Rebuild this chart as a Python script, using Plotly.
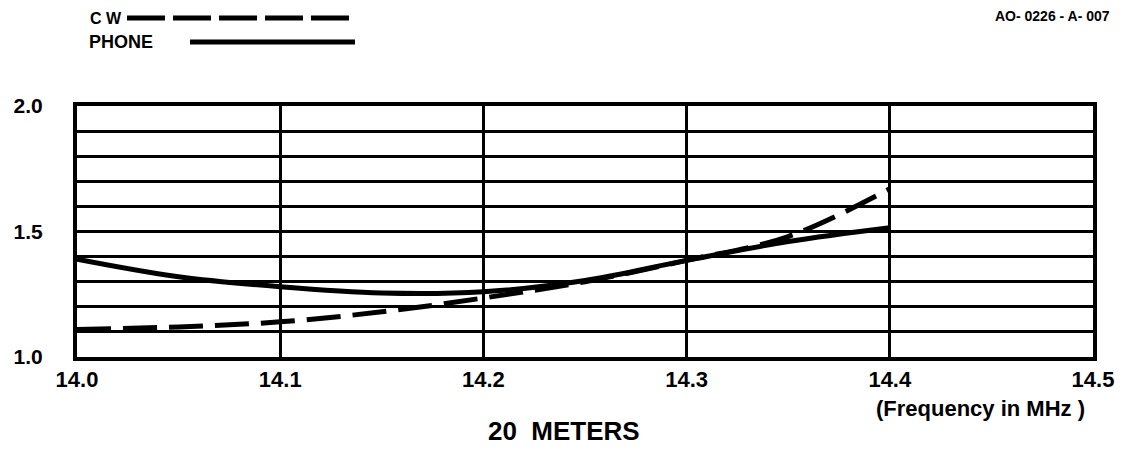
import plotly.graph_objects as go

freq = [14.0, 14.05, 14.1, 14.15, 14.2, 14.25, 14.3, 14.35, 14.4]
cw = [1.11, 1.12, 1.14, 1.18, 1.235, 1.30, 1.385, 1.48, 1.67]
phone = [1.39, 1.32, 1.28, 1.255, 1.26, 1.305, 1.385, 1.46, 1.515]

x_ticks = [14.0, 14.1, 14.2, 14.3, 14.4, 14.5]
x_labels = ["14.0", "14.1", "14.2", "14.3", "14.4", "14.5"]
y_grid = [round(1.0 + 0.1 * i, 2) for i in range(11)]
y_labels = {1.0: "1.0", 1.5: "1.5", 2.0: "2.0"}

FONT = "Liberation Sans"
L, R, T, B = 69, 43, 98, 110
PW = 1128 - L - R
PH = 459 - T - B

def px_x(p):
    # page pixel x -> paper fraction (page has 8px body offset)
    return (p - 8 - L) / PW

fig = go.Figure()
fig.add_trace(go.Scatter(x=freq, y=phone, mode="lines", name="PHONE",
                         line=dict(color="black", width=5, shape="spline")))
fig.add_trace(go.Scatter(x=freq, y=cw, mode="lines", name="CW",
                         line=dict(color="black", width=5, dash="34px,12px", shape="spline")))

fig.update_layout(
    width=1128, height=459,
    margin=dict(l=L, r=R, t=T, b=B, autoexpand=False),
    paper_bgcolor="white", plot_bgcolor="white",
    showlegend=False,
    font=dict(family=FONT, color="black", size=18),
    xaxis=dict(range=[14.0, 14.5], tickvals=x_ticks, ticktext=x_labels,
               showgrid=True, gridcolor="black", gridwidth=3,
               showline=True, linecolor="black", linewidth=4, mirror=True,
               zeroline=False, ticks="", automargin=False,
               tickfont=dict(family=FONT, size=22, color="black", weight="bold")),
    yaxis=dict(range=[1.0, 2.0], tickvals=y_grid,
               ticktext=[y_labels.get(v, "") for v in y_grid],
               showgrid=True, gridcolor="black", gridwidth=3,
               showline=True, linecolor="black", linewidth=4, mirror=True,
               zeroline=False, ticks="", ticklabelstandoff=26, automargin=False,
               tickfont=dict(family=FONT, size=21, color="black", weight="bold")),
)

# legend drawn at the top-left
fig.add_annotation(xref="paper", yref="paper", x=px_x(88), y=1.0, yshift=88,
                   xanchor="left", yanchor="middle", showarrow=False,
                   text="<b>C W</b>", font=dict(size=16, family=FONT))
fig.add_annotation(xref="paper", yref="paper", x=px_x(87), y=1.0, yshift=64,
                   xanchor="left", yanchor="middle", showarrow=False,
                   text="<b>PHONE</b>", font=dict(size=18, family=FONT))
fig.add_shape(type="line", xref="paper", yref="paper",
              x0=px_x(127), x1=px_x(355),
              y0=1 + 88 / PH, y1=1 + 88 / PH,
              line=dict(color="black", width=5, dash="38px,8px"))
fig.add_shape(type="line", xref="paper", yref="paper",
              x0=px_x(190), x1=px_x(355),
              y0=1 + 64 / PH, y1=1 + 64 / PH,
              line=dict(color="black", width=5))

fig.add_annotation(xref="paper", yref="paper", x=px_x(1112), y=1.0, yshift=90,
                   xanchor="right", yanchor="middle", showarrow=False,
                   text="<b>AO- 0226 - A- 007</b>", font=dict(size=14, family=FONT))
fig.add_annotation(xref="paper", yref="paper", x=px_x(980), y=0, yshift=-51,
                   xanchor="center", yanchor="middle", showarrow=False,
                   text="<b>(Frequency in MHz )</b>", font=dict(size=22, family=FONT))
fig.add_annotation(xref="paper", yref="paper", x=px_x(564), y=0, yshift=-74,
                   xanchor="center", yanchor="middle", showarrow=False,
                   text="<b>20  METERS</b>", font=dict(size=26, family=FONT))

fig.write_html("out.html")
